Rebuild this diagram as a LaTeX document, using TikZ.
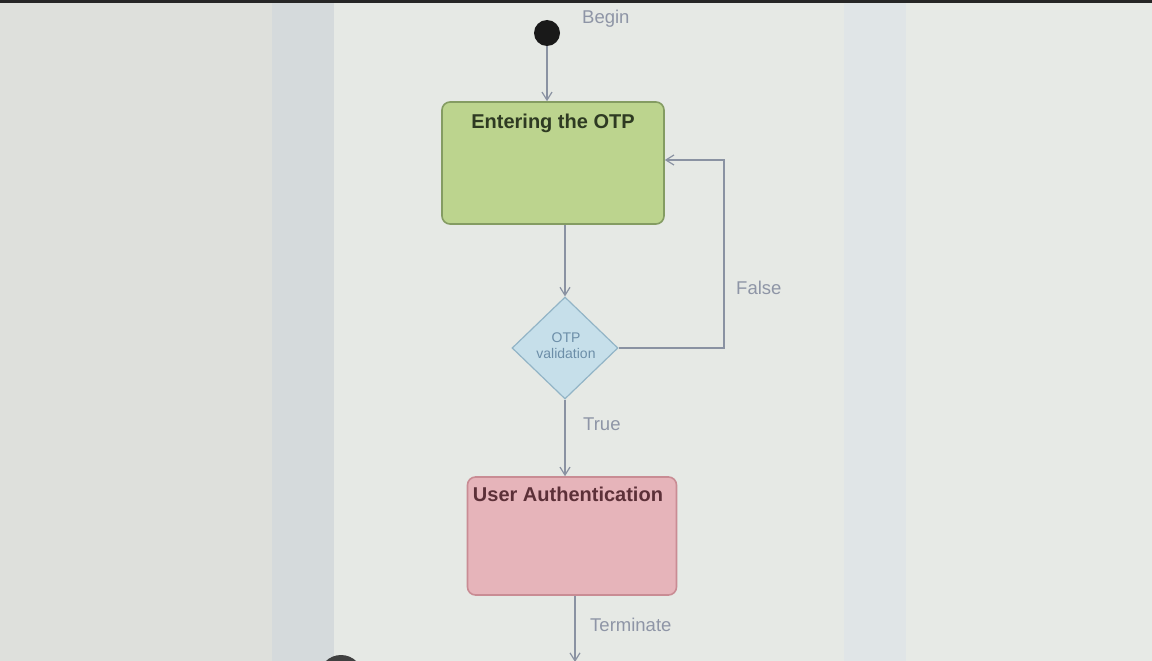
\documentclass[tikz,border=0pt]{standalone}
\usepackage{fontspec}
\setmainfont{Liberation Sans}
\usetikzlibrary{arrows.meta,shapes.geometric}
\definecolor{bgmain}{HTML}{E6E9E5}
\definecolor{bgleft}{HTML}{DEE0DC}
\definecolor{bgbandl}{HTML}{D5DADC}
\definecolor{bgbandr}{HTML}{E0E5E7}
\definecolor{bgright}{HTML}{E7EAE6}
\definecolor{linec}{HTML}{8A92A2}
\definecolor{labc}{HTML}{8E95A6}
\definecolor{greenfill}{HTML}{BCD48E}
\definecolor{greendraw}{HTML}{849C62}
\definecolor{bluefill}{HTML}{C6DFEA}
\definecolor{bluedraw}{HTML}{92B4C6}
\definecolor{pinkfill}{HTML}{E6B4BA}
\definecolor{pinkdraw}{HTML}{C98C94}
\definecolor{greentext}{HTML}{2E3A22}
\definecolor{pinktext}{HTML}{5C3038}
\definecolor{diatext}{HTML}{6C8EA8}
\tikzset{
  conn/.style={draw=linec, line width=1.3pt, -{Straight Barb[length=8pt,width=10pt,line width=1.2pt]}},
  lab/.style={text=labc, font=\fontsize{18.5}{20}\selectfont, inner sep=0pt},
  statebox/.style={rounded corners=8pt, line width=1.6pt, minimum width=222pt, minimum height=122pt, inner sep=0pt},
  boxtitle/.style={font=\bfseries\fontsize{20}{22}\selectfont, inner sep=0pt}
}
\begin{document}
\begin{tikzpicture}[x=1pt,y=-1pt]
\useasboundingbox (0,0) rectangle (1152,661);
% background (screen photo)
\fill[bgleft] (0,0) rectangle (272,661);
\fill[bgbandl] (272,0) rectangle (334,661);
\fill[bgmain] (334,0) rectangle (844,661);
\fill[bgbandr] (844,0) rectangle (906,661);
\fill[bgright] (906,0) rectangle (1152,661);
\fill[black!85] (0,0) rectangle (1152,3);
% start
\node[circle, fill=black!90, minimum size=26pt, inner sep=0pt] (start) at (547,33) {};
\node[lab, anchor=west] (begin) at (582,19) {Begin};
% Entering the OTP
\node[statebox, fill=greenfill, draw=greendraw] (enter) at (553,163) {};
\node[boxtitle, text=greentext] (entert) at (553,123) {Entering the OTP};
% decision
\node[diamond, aspect=1.05, fill=bluefill, draw=bluedraw, line width=1.2pt, minimum width=106pt, minimum height=102pt, inner sep=0pt] (dec) at (565,348) {};
\node[text=diatext, font=\fontsize{14}{16}\selectfont, align=center, inner sep=0pt] (dect) at (566,346) {OTP\\validation};
% User Authentication
\node[statebox, fill=pinkfill, draw=pinkdraw, minimum width=209pt, minimum height=118pt] (auth) at (572,536) {};
\node[boxtitle, text=pinktext] (autht) at (568,494) {User Authentication};
% end (partly visible)
\node[circle, fill=black!75, minimum size=44pt, inner sep=0pt] (endc) at (341,677) {};
% connectors
\draw[conn] (start.south) -- (enter.north -| start.south);
\draw[conn] (enter.south -| dec.north) -- (dec.north);
\coordinate (fr) at (724,348);
\coordinate (ft) at (724,160);
\draw[conn] (dec.east) -- (fr) -- (ft) -- (enter.east |- ft);
\node[lab, anchor=west] (false) at (736,288) {False};
\draw[conn] (dec.south) -- (auth.north -| dec.south);
\node[lab, anchor=west] (true) at (583,424) {True};
\coordinate (tend) at (575,662);
\draw[conn] (auth.south -| tend) -- (tend);
\node[lab, anchor=west] (term) at (590,625) {Terminate};
\end{tikzpicture}
\end{document}
